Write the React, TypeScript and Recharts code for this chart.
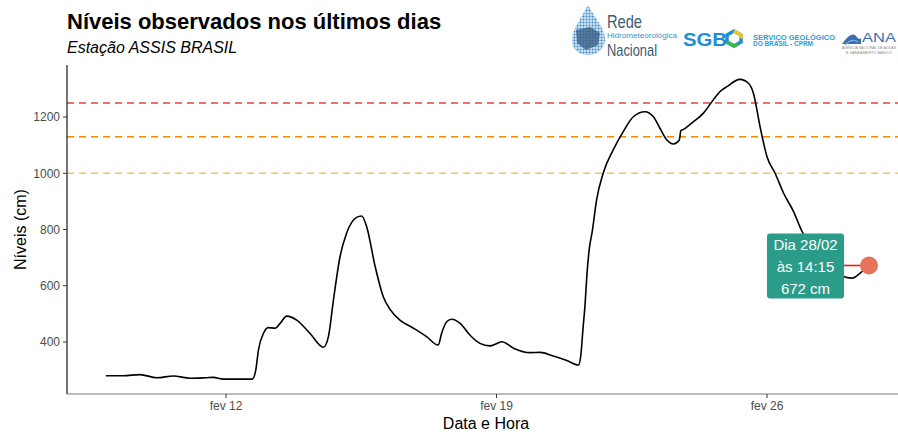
import React from "react";
import { LineChart, Line, XAxis, YAxis, ReferenceLine, ReferenceDot } from "recharts";

// leituras da estação (dia de fevereiro, nível em cm)
const dias = [
  8.89, 9.34, 9.77, 10.21, 10.64, 11.07, 11.5, 11.67, 11.93, 12.68, 12.77, 12.84, 12.97, 13.09, 13.27,
  13.4, 13.57, 13.83, 14.17, 14.52, 14.65, 14.78, 14.95, 15.12, 15.38, 15.51, 15.64, 15.86, 16.07, 16.24,
  16.5, 16.85, 17.19, 17.49, 17.58, 17.71, 17.84, 18.06, 18.31, 18.57, 18.83, 19.01, 19.14, 19.44, 19.87,
  20.13, 20.47, 20.82, 21.12, 21.18, 21.24, 21.29, 21.34, 21.4, 21.48, 21.59, 21.76, 22.02, 22.28, 22.54,
  22.84, 23.06, 23.23, 23.41, 23.58, 23.73, 23.77, 23.84, 24.09, 24.35, 24.61, 24.78, 24.96, 25.3, 25.52,
  25.65, 25.82, 26.0, 26.21, 26.43, 26.69, 26.91, 27.24, 27.63, 28.04, 28.2, 28.41, 28.64,
];
const niveis = [
  280, 280, 284, 273, 279, 271, 273, 274, 268, 268, 300, 372, 431, 451, 449,
  466, 492, 478, 431, 381, 419, 549, 703, 787, 843, 848, 810, 668, 561, 517,
  478, 449, 419, 389, 431, 472, 481, 466, 425, 395, 386, 395, 401, 378, 362,
  363, 350, 334, 318, 350, 450, 530, 640, 730, 795, 905, 1000, 1083, 1148, 1201,
  1219, 1201, 1160, 1118, 1104, 1118, 1151, 1156, 1183, 1213, 1261, 1290, 1308, 1334, 1320,
  1284, 1166, 1059, 1000, 929, 863, 792, 730, 668, 630, 627, 645, 672,
];

const ticksX = [12, 19, 26];
const ticksY = [400, 600, 800, 1000, 1200];

// cotas de referência: inundação, alerta, atenção
const cotas = [1250, 1130, 1000];
const coresCotas = ["#e8413c", "#ff8500", "#fdc15c"];

const ultimoDia = 28.64;
const ultimoNivel = 672;
const rotulo = ["Dia 28/02", "às 14:15", "672 cm"];

const data = dias.map((d, i) => ({ dia: d, nivel: niveis[i] }));

const FONT = "'Liberation Sans', Arial, sans-serif";

function Anotacao(props: any) {
  const { cx, cy } = props;
  if (cx == null || cy == null) return null;
  return (
    <g>
      <line x1={cx - 25} y1={cy} x2={cx} y2={cy} stroke="#e3211c" strokeWidth={1.6} />
      <rect x={cx - 102} y={cy - 32} width={77} height={65} rx={3} fill="#2b9b8a" />
      {rotulo.map((t, i) => (
        <text
          key={t}
          x={cx - 63.5}
          y={cy - 21 + i * 22.3}
          dy="0.36em"
          textAnchor="middle"
          fill="#ffffff"
          fontSize={15}
          fontFamily={FONT}
        >
          {t}
        </text>
      ))}
      <circle cx={cx} cy={cy} r={9} fill="#e8725a" />
    </g>
  );
}

function Logos() {
  return (
    <g fontFamily={FONT}>
      <defs>
        <pattern id="pontos" width="3" height="3" patternUnits="userSpaceOnUse">
          <circle cx="1.5" cy="1.5" r="1" fill="#3f86c6" />
        </pattern>
        <clipPath id="gota">
          <path d="M588,5 C596,20 606,30 605,40 C604,50 596,55 588,55 C580,55 572,50 572,40 C572,30 580,20 588,5 Z" />
        </clipPath>
      </defs>
      <g clipPath="url(#gota)">
        <rect x={570} y={4} width={38} height={54} fill="#cfe3f4" />
        <rect x={570} y={4} width={38} height={54} fill="url(#pontos)" />
        <path d="M576,30 L590,27 L600,33 L598,45 L586,50 L577,43 Z" fill="#3a5f86" opacity={0.8} />
      </g>
      <text x={607} y={28} fontSize={19} fill="#3d5a73" textLength={35} lengthAdjust="spacingAndGlyphs">
        Rede
      </text>
      <text x={607} y={37.5} fontSize={8} fill="#3b8fd0" textLength={70} lengthAdjust="spacingAndGlyphs">
        Hidrometeorológica
      </text>
      <text x={607} y={55.5} fontSize={17} fill="#3d5a73" textLength={50} lengthAdjust="spacingAndGlyphs">
        Nacional
      </text>

      <text
        x={683}
        y={46}
        fontSize={18}
        fontWeight="bold"
        fill="#1b8fd8"
        textLength={44}
        lengthAdjust="spacingAndGlyphs"
      >
        SGB
      </text>
      <path d="M734,31 L741,35 L741,42 L734,46 L727,42 L727,35 Z" fill="none" stroke="#1b8fd8" strokeWidth={3.5} />
      <path d="M734,31 L741,35 L741,38.5" fill="none" stroke="#f4c51c" strokeWidth={3.5} />
      <path d="M727,42 L734,46 L738,44" fill="none" stroke="#39b54a" strokeWidth={3.5} />
      <text
        x={753}
        y={39.5}
        fontSize={6.8}
        fontWeight="bold"
        fill="#1ea0e0"
        textLength={82}
        lengthAdjust="spacingAndGlyphs"
      >
        SERVIÇO GEOLÓGICO
      </text>
      <text
        x={753}
        y={46}
        fontSize={6.8}
        fontWeight="bold"
        fill="#1ea0e0"
        textLength={60}
        lengthAdjust="spacingAndGlyphs"
      >
        DO BRASIL - CPRM
      </text>

      <path d="M842,44 C848,36 852,32 856,36 C858,39 860,40 861,38 L861,44 Z" fill="#3c6db4" />
      <path d="M845,45 C850,40 854,39 858,42" fill="none" stroke="#7fb6e0" strokeWidth={1.2} />
      <text x={862} y={42} fontSize={13} fill="#3c6db4" textLength={34} lengthAdjust="spacingAndGlyphs">
        ANA
      </text>
      <text x={842} y={49} fontSize={3.6} fill="#8a8a8a" textLength={54} lengthAdjust="spacingAndGlyphs">
        AGÊNCIA NACIONAL DE ÁGUAS
      </text>
      <text x={846} y={53.5} fontSize={3.6} fill="#8a8a8a" textLength={46} lengthAdjust="spacingAndGlyphs">
        E SANEAMENTO BÁSICO
      </text>
    </g>
  );
}

export default function App() {
  return (
    <div
      style={{
        position: "absolute",
        left: 0,
        top: 0,
        width: 898,
        height: 434,
        background: "#ffffff",
        overflow: "hidden",
        fontFamily: FONT,
      }}
    >
      <LineChart width={898} height={434} data={data} margin={{ top: 65, right: 0, bottom: 0, left: 0 }}>
        <XAxis
          dataKey="dia"
          type="number"
          domain={[7.885, 29.39]}
          allowDataOverflow
          ticks={ticksX}
          tickFormatter={(d: number) => `fev ${d}`}
          height={40}
          tickSize={4}
          tickMargin={3}
          axisLine={{ stroke: "#7a7a7a", strokeWidth: 1.2 }}
          tickLine={{ stroke: "#333333" }}
          tick={{ fill: "#4d4d4d", fontSize: 12, fontFamily: FONT }}
        />
        <YAxis
          type="number"
          domain={[215, 1385]}
          allowDataOverflow
          ticks={ticksY}
          width={67}
          tickSize={4}
          tickMargin={3}
          axisLine={{ stroke: "#1a1a1a", strokeWidth: 1.2 }}
          tickLine={{ stroke: "#333333" }}
          tick={{ fill: "#4d4d4d", fontSize: 12, fontFamily: FONT }}
        />
        {cotas.map((c, i) => (
          <ReferenceLine
            key={c}
            y={c}
            stroke={coresCotas[i]}
            strokeWidth={1.6}
            strokeDasharray="7 5"
          />
        ))}
        <Line
          type="monotone"
          dataKey="nivel"
          stroke="#000000"
          strokeWidth={1.6}
          dot={false}
          isAnimationActive={false}
        />
        <ReferenceDot x={ultimoDia} y={ultimoNivel} r={9} shape={<Anotacao />} />
      </LineChart>
      <svg
        width={898}
        height={434}
        style={{ position: "absolute", left: 0, top: 0, pointerEvents: "none" }}
      >
        <text x={67} y={29} fontSize={22} fontWeight="bold" fill="#000" fontFamily={FONT}>
          Níveis observados nos últimos dias
        </text>
        <text x={67} y={53} fontSize={16} fontStyle="italic" fill="#000" fontFamily={FONT}>
          Estação ASSIS BRASIL
        </text>
        <text
          x={486}
          y={429}
          fontSize={16}
          textAnchor="middle"
          fill="#000"
          fontFamily={FONT}
        >
          Data e Hora
        </text>
        <text
          x={0}
          y={0}
          transform="translate(26,229.5) rotate(-90)"
          fontSize={16}
          textAnchor="middle"
          fill="#000"
          fontFamily={FONT}
        >
          Níveis (cm)
        </text>
        <Logos />
      </svg>
    </div>
  );
}
